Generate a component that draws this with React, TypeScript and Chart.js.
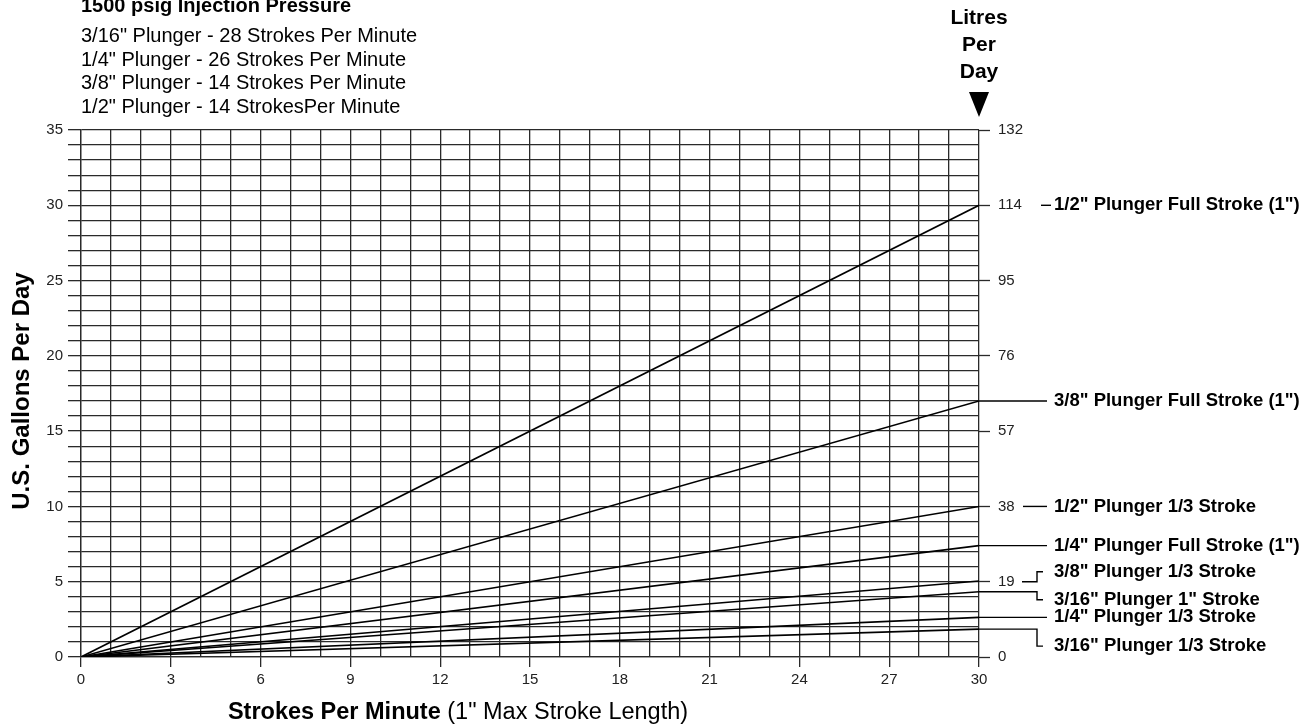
import React, { useEffect, useRef } from 'react';
import { Chart, registerables } from 'chart.js';

Chart.register(...registerables);

const W = 1309;
const H = 725;

// ---- Data ----
const strokesPerMinute = [0, 30];
const halfFullStroke = [0, 30];
const threeEighthsFullStroke = [0, 17];
const halfThirdStroke = [0, 10];
const quarterFullStroke = [0, 7.4];
const threeEighthsThirdStroke = [0, 5.05];
const threeSixteenthsFullStroke = [0, 4.33];
const quarterThirdStroke = [0, 2.63];
const threeSixteenthsThirdStroke = [0, 1.85];

const seriesLabels = [
  '1/2" Plunger Full Stroke (1")',
  '3/8" Plunger Full Stroke (1")',
  '1/2" Plunger 1/3 Stroke',
  '1/4" Plunger Full Stroke (1")',
  '3/8" Plunger 1/3 Stroke',
  '3/16" Plunger 1" Stroke',
  '1/4" Plunger 1/3 Stroke',
  '3/16" Plunger 1/3 Stroke',
];
const seriesValues = [
  halfFullStroke,
  threeEighthsFullStroke,
  halfThirdStroke,
  quarterFullStroke,
  threeEighthsThirdStroke,
  threeSixteenthsFullStroke,
  quarterThirdStroke,
  threeSixteenthsThirdStroke,
];

const xTickLabels = [0, 3, 6, 9, 12, 15, 18, 21, 24, 27, 30];
const gallonsTicks = [0, 5, 10, 15, 20, 25, 30, 35];
const litresTicks = ['0', '19', '38', '57', '76', '95', '114', '132'];

const headerTitle = '1500 psig Injection Pressure';
const headerLines = [
  '3/16" Plunger - 28 Strokes Per Minute',
  '1/4" Plunger - 26 Strokes Per Minute',
  '3/8" Plunger - 14 Strokes Per Minute',
  '1/2" Plunger - 14 StrokesPer Minute',
];
const rightTitleLines = ['Litres', 'Per', 'Day'];
const yTitle = 'U.S. Gallons Per Day';
const xTitleBold = 'Strokes Per Minute';
const xTitleRest = ' (1" Max Stroke Length)';

// ---- Styles for right-side annotation connectors (style, not data) ----
const connectorStyles: { kind: string; dy: number }[] = [
  { kind: 'dashShort', dy: 0 },
  { kind: 'line', dy: 0 },
  { kind: 'dashLong', dy: 0 },
  { kind: 'line', dy: 0 },
  { kind: 'tickUp', dy: -10 },
  { kind: 'down', dy: 8 },
  { kind: 'line', dy: 0 },
  { kind: 'down', dy: 17 },
];

const FONT = '"Liberation Sans", Arial, Helvetica, sans-serif';
const GRID = '#2a2a2a';

const annotationPlugin = {
  id: 'annotations',
  beforeDraw(chart: any) {
    const { ctx } = chart;
    ctx.save();
    ctx.fillStyle = '#ffffff';
    ctx.fillRect(0, 0, chart.width, chart.height);
    ctx.restore();
  },
  afterDraw(chart: any) {
    const { ctx } = chart;
    const xs = chart.scales.x;
    const ys = chart.scales.y;
    const x0 = xs.getPixelForValue(0);
    const x30 = xs.getPixelForValue(30);
    ctx.save();
    ctx.fillStyle = '#000';
    ctx.strokeStyle = '#000';

    // header
    ctx.textAlign = 'left';
    ctx.textBaseline = 'alphabetic';
    ctx.font = `bold 20px ${FONT}`;
    ctx.fillText(headerTitle, x0, 12);
    ctx.font = `20px ${FONT}`;
    headerLines.forEach((t, i) => ctx.fillText(t, x0, 42 + i * 23.7));

    // Litres Per Day
    ctx.textAlign = 'center';
    ctx.textBaseline = 'middle';
    ctx.font = `bold 21px ${FONT}`;
    rightTitleLines.forEach((t, i) => ctx.fillText(t, x30, 18 + i * 27));
    ctx.beginPath();
    ctx.moveTo(x30 - 10, 92);
    ctx.lineTo(x30 + 10, 92);
    ctx.lineTo(x30, 117);
    ctx.closePath();
    ctx.fill();

    // y title
    ctx.save();
    ctx.translate(22, 391);
    ctx.rotate(-Math.PI / 2);
    ctx.font = `bold 24px ${FONT}`;
    ctx.textAlign = 'center';
    ctx.textBaseline = 'middle';
    ctx.fillText(yTitle, 0, 0);
    ctx.restore();

    // x title
    ctx.textBaseline = 'middle';
    ctx.textAlign = 'left';
    ctx.font = `bold 23.5px ${FONT}`;
    const wB = ctx.measureText(xTitleBold).width;
    ctx.font = `23.5px ${FONT}`;
    const wR = ctx.measureText(xTitleRest).width;
    const cx = 458;
    const sx = cx - (wB + wR) / 2;
    ctx.font = `bold 23.5px ${FONT}`;
    ctx.fillText(xTitleBold, sx, 713);
    ctx.font = `23.5px ${FONT}`;
    ctx.fillText(xTitleRest, sx + wB, 713);

    // right-side leaders and labels
    const labelX = 1054;
    ctx.lineWidth = 1.4;
    ctx.font = `bold 18.5px ${FONT}`;
    ctx.textAlign = 'left';
    ctx.textBaseline = 'middle';
    seriesValues.forEach((vals, i) => {
      const y = ys.getPixelForValue(vals[vals.length - 1]);
      const st = connectorStyles[i];
      ctx.beginPath();
      if (st.kind === 'dashShort') {
        ctx.moveTo(labelX - 13, y);
        ctx.lineTo(labelX - 3, y);
      } else if (st.kind === 'dashLong') {
        ctx.moveTo(labelX - 31, y);
        ctx.lineTo(labelX - 7, y);
      } else if (st.kind === 'line') {
        ctx.moveTo(x30, y);
        ctx.lineTo(labelX - 7, y);
      } else if (st.kind === 'tickUp') {
        const yt = ys.getPixelForValue(5);
        ctx.moveTo(labelX - 32, yt);
        ctx.lineTo(labelX - 17, yt);
        ctx.lineTo(labelX - 17, yt + st.dy);
        ctx.lineTo(labelX - 11, yt + st.dy);
      } else if (st.kind === 'down') {
        ctx.moveTo(x30, y);
        ctx.lineTo(labelX - 17, y);
        ctx.lineTo(labelX - 17, y + st.dy);
        ctx.lineTo(labelX - 11, y + st.dy);
      }
      ctx.stroke();
      const ly = st.kind === 'tickUp' ? ys.getPixelForValue(5) + st.dy : y + st.dy;
      ctx.fillText(seriesLabels[i], labelX, ly);
    });
    ctx.restore();
  },
};

export default function App() {
  const ref = useRef<HTMLCanvasElement>(null);
  useEffect(() => {
    const canvas = ref.current!;
    const datasets = seriesValues.map((vals, i) => ({
      label: seriesLabels[i],
      data: vals.map((v, j) => ({ x: strokesPerMinute[j], y: v })),
      borderColor: '#000',
      borderWidth: 1.6,
      pointRadius: 0,
      fill: false,
      tension: 0,
    }));
    const chart = new Chart(canvas, {
      type: 'line',
      data: { datasets },
      plugins: [annotationPlugin],
      options: {
        animation: false,
        responsive: false,
        devicePixelRatio: 1,
        layout: { padding: { top: 130, left: 0, right: 0, bottom: 0 } },
        plugins: { legend: { display: false }, tooltip: { enabled: false } },
        scales: {
          x: {
            type: 'linear',
            min: 0,
            max: 30,
            afterFit: (s: any) => {
              s.height = 68;
            },
            ticks: {
              stepSize: 1,
              autoSkip: false,
              maxRotation: 0,
              padding: 4,
              color: '#222',
              font: { family: FONT, size: 15 },
              callback: (v: any) => (xTickLabels.includes(Number(v)) ? String(v) : ''),
            },
            grid: {
              color: GRID,
              lineWidth: 1.3,
              tickLength: 10,
              tickWidth: 1.3,
              tickColor: (c: any) =>
                c.tick && xTickLabels.includes(c.tick.value) ? GRID : 'rgba(0,0,0,0)',
            },
            border: { display: true, color: GRID, width: 1.3 },
          },
          y: {
            type: 'linear',
            position: 'left',
            min: 0,
            max: 35,
            afterFit: (s: any) => {
              s.width = 81;
            },
            ticks: {
              stepSize: 1,
              autoSkip: false,
              padding: 5,
              color: '#222',
              font: { family: FONT, size: 15 },
              callback: (v: any) => (gallonsTicks.includes(Number(v)) ? String(v) : ''),
            },
            grid: {
              color: GRID,
              lineWidth: 1.3,
              tickLength: 13,
              tickWidth: 1.3,
              tickColor: GRID,
            },
            border: { display: true, color: GRID, width: 1.3 },
          },
          y2: {
            type: 'linear',
            position: 'right',
            min: 0,
            max: 35,
            afterFit: (s: any) => {
              s.width = W - 979;
            },
            ticks: {
              stepSize: 5,
              autoSkip: false,
              padding: 8,
              color: '#222',
              font: { family: FONT, size: 15 },
              callback: (v: any) => {
                const k = gallonsTicks.indexOf(Number(v));
                return k >= 0 ? litresTicks[k] : '';
              },
            },
            grid: {
              drawOnChartArea: false,
              tickLength: 11,
              tickWidth: 1.3,
              tickColor: GRID,
            },
            border: { display: false },
          },
        },
      },
    } as any);
    return () => chart.destroy();
  }, []);
  return (
    <div style={{ position: 'absolute', left: 0, top: 0, width: W, height: H, background: '#fff' }}>
      <canvas ref={ref} width={W} height={H} style={{ width: W, height: H, display: 'block' }} />
    </div>
  );
}
